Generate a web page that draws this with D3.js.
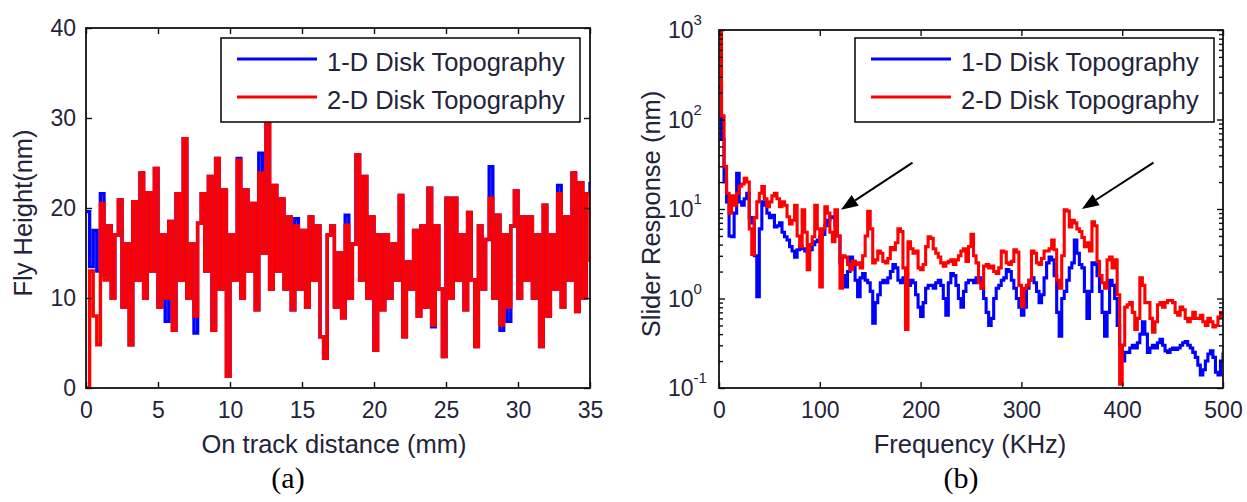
<!DOCTYPE html>
<html>
<head>
<meta charset="utf-8">
<script src="https://cdn.jsdelivr.net/npm/d3@7"></script>
<style>
  body { margin: 0; background: #fff; }
  svg text { font-family: "Liberation Sans", Arial, sans-serif; fill: #23233a; }
  svg text.caption { font-family: "Liberation Serif", "Times New Roman", serif; fill: #000; }
</style>
</head>
<body>
<svg id="chart" width="1247" height="502"></svg>
<script>

var seriesNames = ['1-D Disk Topography', '2-D Disk Topography'];
var seriesColors = ['#0000ff', '#ff0000'];

// (a) fly height along the track, one value every 0.25 mm
var distStep = 0.25;
var flyHeight1D = [
  19.6, 13.5, 17.5, 13, 21.6, 12.5, 18, 10, 17, 20.9,
  9, 16, 4.8, 20.7, 12, 23.9, 10, 21.7, 13, 24.4,
  9, 17, 7.4, 18.5, 6.4, 21.6, 12, 27.7, 10, 16,
  6.1, 18.3, 21.6, 13, 23.5, 6.4, 25.5, 11, 22, 1.3,
  17, 12, 25.5, 10, 22, 13, 20.5, 8.7, 26.1, 15,
  29.4, 11, 22.5, 13, 21, 11, 19, 8.7, 18.8, 11,
  17.5, 9, 19, 12, 18, 5.7, 3.3, 17, 18, 9,
  15, 7.8, 19.2, 10, 16, 25.9, 12, 23.5, 10, 19,
  4.2, 17, 8.7, 17, 10, 16, 12, 21.4, 5.7, 14,
  11, 17.5, 8, 18, 9, 22.2, 6.8, 18, 11, 3.5,
  21.1, 10, 21.1, 12, 17, 8.7, 19.5, 12, 4.6, 18,
  11, 16.5, 24.6, 10, 19.2, 6.4, 17, 7.4, 18, 21.9,
  10, 19, 12, 19, 10, 17, 4.6, 20.3, 8, 17,
  11, 22.5, 9, 19, 12, 23.9, 8.5, 22.8, 10, 21.6,
  22.9
];
var flyHeight2D = [
  0, 13, 8, 4.8, 20.5, 12, 18, 10, 17, 20.9,
  9, 16, 4.8, 20.7, 12, 23.9, 10, 21.7, 13, 24.4,
  9, 17, 10, 18.5, 6.4, 21.6, 12, 27.7, 10, 16,
  8, 18.3, 21.6, 13, 23.5, 6.4, 25.5, 11, 22, 1.3,
  17, 12, 25.3, 10, 22, 13, 20.5, 8.7, 23.9, 15,
  29.4, 11, 22.5, 13, 21, 11, 19, 8.7, 18, 11,
  17.5, 9, 19, 12, 18, 5.7, 3.3, 17, 18, 9,
  15, 7.8, 18.1, 10, 16, 25.9, 12, 23.5, 10, 19,
  4.2, 17, 8.7, 17, 10, 16, 12, 21.4, 5.7, 14,
  11, 17.5, 8, 18, 9, 22.2, 7, 18, 11, 3.5,
  21.1, 10, 21.1, 12, 17, 8.7, 19.5, 12, 4.6, 18,
  11, 16.5, 21.1, 10, 19.2, 7, 17, 9, 18, 21.9,
  10, 19, 12, 19, 10, 17, 4.6, 20.3, 8, 17,
  11, 21.6, 9, 19, 12, 23.9, 8.5, 22.8, 10, 21.6,
  14
];
var distTicks = [0, 5, 10, 15, 20, 25, 30, 35];
var heightTicks = [0, 10, 20, 30, 40];

// (b) slider response spectrum, 2.5 kHz bins
var freqStep = 2.5;
var response1D = [
  230, 60, 20, 12, 5, 4.9, 9, 25, 12, 11,
  13, 15, 8, 7, 3, 1.05, 6, 12, 11, 9,
  8, 8.5, 6.3, 6.5, 7, 5.5, 4.9, 4.5, 3.8, 3.4,
  2.9, 3.5, 3.8, 3.6, 3.4, 3.3, 3.5, 4, 4.3, 4.5,
  4.8, 5.2, 6.5, 7.5, 8.2, 8, 6.5, 5, 2.5, 1.8,
  1.35, 2, 2.9, 2.6, 1.6, 1.05, 1.7, 1.9, 1.6, 1.5,
  1.2, 0.53, 0.9, 1.1, 1.5, 1.6, 1.5, 1.7, 2.0, 2.4,
  2.2, 1.6, 1.5, 1.7, 1.6, 1.4, 1.6, 1.5, 1.1, 0.8,
  0.63, 0.9, 1.3, 1.4, 1.4, 1.3, 1.5, 1.6, 1.4, 1.0,
  0.65, 1.5, 1.9, 1.8, 1.4, 1.0, 0.8, 1.2, 1.5, 1.6,
  1.6, 1.5, 1.7, 1.7, 1.3, 1.0, 0.7, 0.5, 0.6, 1.0,
  1.3, 1.4, 1.6, 1.7, 2.1, 2.0, 1.6, 1.3, 1.0, 0.8,
  0.65, 0.8, 1.3, 1.6, 1.7, 1.5, 1.2, 0.9, 1.1, 1.7,
  2.5, 2.9, 2.7, 1.8, 0.7, 0.38, 1.0, 1.2, 1.6, 2.2,
  2.5, 4.5, 3.2, 2.4, 2.2, 1.2, 0.6, 1.2, 2.5, 2.4,
  1.8, 1.2, 0.7, 0.38, 0.7, 1.6, 1.4, 1.0, 0.5, 0.3,
  0.2, 0.25, 0.25, 0.28, 0.3, 0.28, 0.32, 0.4, 0.55, 0.4,
  0.25, 0.28, 0.3, 0.28, 0.32, 0.35, 0.3, 0.26, 0.25, 0.27,
  0.28, 0.27, 0.28, 0.3, 0.32, 0.33, 0.3, 0.28, 0.25, 0.22,
  0.18, 0.14, 0.16, 0.2, 0.24, 0.26, 0.22, 0.15, 0.14, 0.2,
  0.25
];
var response2D = [
  1000, 110, 30, 15, 9, 14, 11, 15, 18, 19,
  22, 20, 6, 3.1, 8, 12, 15, 17.8, 13, 10.6,
  12, 14, 15, 13, 10.6, 12, 11, 8.2, 6.8, 7.5,
  11, 5, 3.8, 9.8, 5.5, 2.1, 4, 4.9, 11, 6,
  1.35, 6, 10.6, 9, 5.5, 4.3, 9.8, 5, 1.3, 3,
  2.9, 2.4, 2.1, 2.6, 2.4, 2.5, 2.2, 3, 5, 9.4,
  6, 2.5, 2.7, 3.4, 3.2, 2.6, 2.5, 2.8, 3.7, 3.5,
  4.2, 6, 5.6, 2.2, 0.45, 4.3, 3.6, 3.2, 3.4, 2.2,
  2.1, 2.4, 3.8, 4.9, 4.7, 3.6, 3.2, 2.9, 2.5, 2.3,
  2.5, 2.6, 2.7, 2.4, 2.7, 3.0, 3.4, 3.6, 2.6, 3.8,
  5.2, 3.0, 2.5, 1.5, 1.3, 2.3, 2.4, 2.2, 2.3, 2.0,
  1.9, 2.2, 3.4, 3.3, 2.5, 2.4, 2.6, 3.5, 3.3, 1.4,
  0.81, 1.3, 1.4, 1.6, 3.4, 3.2, 2.5, 2.4, 2.8, 3.4,
  3.4, 3.6, 4.5, 3.5, 1.6, 1.3, 3.0, 9.8, 9.5, 6.3,
  7.5, 7.0, 6.0, 5.6, 4.8, 3.8, 4.2, 3.4, 7.2, 6.5,
  2.6, 1.8, 1.5, 1.3, 2.7, 2.9, 2.2, 2.7, 1.1, 0.11,
  0.3, 0.8, 0.85, 0.9, 0.7, 0.45, 0.6, 1.7, 1.4, 0.9,
  0.9, 0.6, 0.42, 0.55, 0.85, 0.9, 0.8, 0.9, 0.95, 0.95,
  0.9, 0.7, 0.65, 0.8, 0.75, 0.6, 0.55, 0.6, 0.7, 0.6,
  0.6, 0.65, 0.55, 0.5, 0.6, 0.55, 0.48, 0.5, 0.62, 0.7,
  0.65
];
var freqTicks = [0, 100, 200, 300, 400, 500];
var responseExponents = [-1, 0, 1, 2, 3];

// arrows pointing at the two resonance peaks, [kHz, nm]
var arrowFrom = [[192, 33], [431, 33]];
var arrowTo = [[121, 9.8], [360, 10]];

var svg = d3.select('#chart');

function drawFrame(g, w, h) {
  g.append('rect')
      .attr('width', w)
      .attr('height', h)
      .attr('fill', 'none')
      .attr('stroke', '#111')
      .attr('stroke-width', 1.8);
}

function styleAxis(g) {
  g.select('.domain').remove();
  g.selectAll('.tick line').attr('stroke', '#111').attr('stroke-width', 1.4);
  g.selectAll('.tick text').style('font-size', '23px').attr('fill', '#23233a');
}

function drawLegend(g, x, y) {
  var leg = g.append('g').attr('transform', 'translate(' + x + ',' + y + ')');
  leg.append('rect')
      .attr('width', 359)
      .attr('height', 84)
      .attr('fill', '#fff')
      .attr('stroke', '#111')
      .attr('stroke-width', 1.6);
  var rows = leg.selectAll('g.row')
      .data(seriesNames)
    .join('g')
      .attr('class', 'row')
      .attr('transform', function(d, i) { return 'translate(0,' + (21 + i * 38) + ')'; });
  rows.append('line')
      .attr('x1', 16).attr('x2', 96)
      .attr('stroke', function(d, i) { return seriesColors[i]; })
      .attr('stroke-width', 3.2);
  rows.append('text')
      .attr('x', 106)
      .attr('y', 11.5)
      .style('font-size', '25.5px')
      .text(function(d) { return d; });
}

/* ---- panel (a) ---- */
var aLeft = 86, aTop = 28, aW = 504, aH = 360;
var gA = svg.append('g').attr('transform', 'translate(' + aLeft + ',' + aTop + ')');

var xA = d3.scaleLinear().domain([0, 35]).range([0, aW]);
var yA = d3.scaleLinear().domain([0, 40]).range([aH, 0]);

gA.append('clipPath').attr('id', 'clipA')
  .append('rect').attr('width', aW).attr('height', aH);

var stairsA = d3.line()
    .x(function(d, i) { return xA(i * distStep); })
    .y(function(d) { return yA(d); })
    .curve(d3.curveStepAfter);

// steps are about one sample wide, so the thick stroke closes up into a band
gA.append('g').attr('clip-path', 'url(#clipA)')
  .selectAll('path')
    .data([flyHeight1D, flyHeight2D])
  .join('path')
    .attr('d', stairsA)
    .attr('fill', 'none')
    .attr('stroke', function(d, i) { return seriesColors[i]; })
    .attr('stroke-width', 3.4);

gA.append('g')
    .attr('transform', 'translate(0,' + aH + ')')
    .call(d3.axisBottom(xA).tickValues(distTicks).tickSize(-6).tickPadding(14))
    .call(styleAxis);
gA.append('g')
    .call(d3.axisTop(xA).tickValues(distTicks).tickSize(-6).tickFormat(''))
    .call(styleAxis);
gA.append('g')
    .call(d3.axisLeft(yA).tickValues(heightTicks).tickSize(-6).tickPadding(10))
    .call(styleAxis);
gA.append('g')
    .attr('transform', 'translate(' + aW + ',0)')
    .call(d3.axisRight(yA).tickValues(heightTicks).tickSize(-6).tickFormat(''))
    .call(styleAxis);

drawFrame(gA, aW, aH);
drawLegend(gA, 135, 10);

svg.append('text')
    .attr('transform', 'translate(32,213) rotate(-90)')
    .attr('text-anchor', 'middle')
    .style('font-size', '25.5px')
    .text('Fly Height(nm)');
svg.append('text')
    .attr('x', 334).attr('y', 453)
    .attr('text-anchor', 'middle')
    .style('font-size', '25.5px')
    .text('On track distance (mm)');
svg.append('text')
    .attr('class', 'caption')
    .attr('x', 288).attr('y', 488)
    .attr('text-anchor', 'middle')
    .style('font-size', '30px')
    .text('(a)');

/* ---- panel (b) ---- */
var bLeft = 719, bTop = 30, bW = 504, bH = 358;
var gB = svg.append('g').attr('transform', 'translate(' + bLeft + ',' + bTop + ')');

var xB = d3.scaleLinear().domain([0, 500]).range([0, bW]);
var yB = d3.scaleLog().domain([0.1, 1000]).range([bH, 0]);

gB.append('clipPath').attr('id', 'clipB')
  .append('rect').attr('width', bW).attr('height', bH);

var stairsB = d3.line()
    .x(function(d, i) { return xB(i * freqStep); })
    .y(function(d) { return yB(d); })
    .curve(d3.curveStepAfter);

gB.append('g').attr('clip-path', 'url(#clipB)')
  .selectAll('path')
    .data([response1D, response2D])
  .join('path')
    .attr('d', stairsB)
    .attr('fill', 'none')
    .attr('stroke', function(d, i) { return seriesColors[i]; })
    .attr('stroke-width', 3.1);

var majorB = responseExponents.map(function(e) { return Math.pow(10, e); });
var minorB = [];
majorB.slice(0, -1).forEach(function(m) {
  for (var k = 2; k <= 9; k++) minorB.push(m * k);
});

gB.append('g')
    .attr('transform', 'translate(0,' + bH + ')')
    .call(d3.axisBottom(xB).tickValues(freqTicks).tickSize(-6).tickPadding(14))
    .call(styleAxis);
gB.append('g')
    .call(d3.axisTop(xB).tickValues(freqTicks).tickSize(-6).tickFormat(''))
    .call(styleAxis);
gB.append('g')
    .call(d3.axisLeft(yB).tickValues(majorB).tickSize(-6).tickFormat(''))
    .call(styleAxis);
gB.append('g')
    .call(d3.axisLeft(yB).tickValues(minorB).tickSize(-4).tickFormat(''))
    .call(styleAxis);
gB.append('g')
    .attr('transform', 'translate(' + bW + ',0)')
    .call(d3.axisRight(yB).tickValues(majorB).tickSize(-6).tickFormat(''))
    .call(styleAxis);
gB.append('g')
    .attr('transform', 'translate(' + bW + ',0)')
    .call(d3.axisRight(yB).tickValues(minorB).tickSize(-4).tickFormat(''))
    .call(styleAxis);

// decade labels written as 10 with a raised exponent
var decade = gB.append('g').selectAll('text')
    .data(responseExponents)
  .join('text')
    .attr('x', -51)
    .attr('y', function(e) { return yB(Math.pow(10, e)); })
    .attr('dy', '0.35em')
    .style('font-size', '23px')
    .text('10');
decade.append('tspan')
    .attr('dy', -13)
    .style('font-size', '15px')
    .text(function(e) { return e; });

drawFrame(gB, bW, bH);
drawLegend(gB, 136, 8);

gB.append('g').selectAll('g.arrow')
    .data(arrowFrom)
  .join('g')
    .attr('class', 'arrow')
    .each(function(from, i) {
      var x0 = xB(from[0]), y0 = yB(from[1]);
      var x1 = xB(arrowTo[i][0]), y1 = yB(arrowTo[i][1]);
      var ang = Math.atan2(y1 - y0, x1 - x0);
      var len = 17, half = 6.5;
      var bx = x1 - len * Math.cos(ang), by = y1 - len * Math.sin(ang);
      var px = -Math.sin(ang) * half, py = Math.cos(ang) * half;
      var g = d3.select(this);
      g.append('line')
          .attr('x1', x0).attr('y1', y0)
          .attr('x2', bx).attr('y2', by)
          .attr('stroke', '#000')
          .attr('stroke-width', 2);
      g.append('path')
          .attr('d', 'M' + x1 + ',' + y1 + 'L' + (bx + px) + ',' + (by + py) +
                     'L' + (bx - px) + ',' + (by - py) + 'Z')
          .attr('fill', '#000');
    });

svg.append('text')
    .attr('transform', 'translate(660,214) rotate(-90)')
    .attr('text-anchor', 'middle')
    .style('font-size', '25.5px')
    .text('Slider Response (nm)');
svg.append('text')
    .attr('x', 970).attr('y', 453)
    .attr('text-anchor', 'middle')
    .style('font-size', '25.5px')
    .text('Frequency (KHz)');
svg.append('text')
    .attr('class', 'caption')
    .attr('x', 961).attr('y', 488)
    .attr('text-anchor', 'middle')
    .style('font-size', '30px')
    .text('(b)');

</script>
</body>
</html>
